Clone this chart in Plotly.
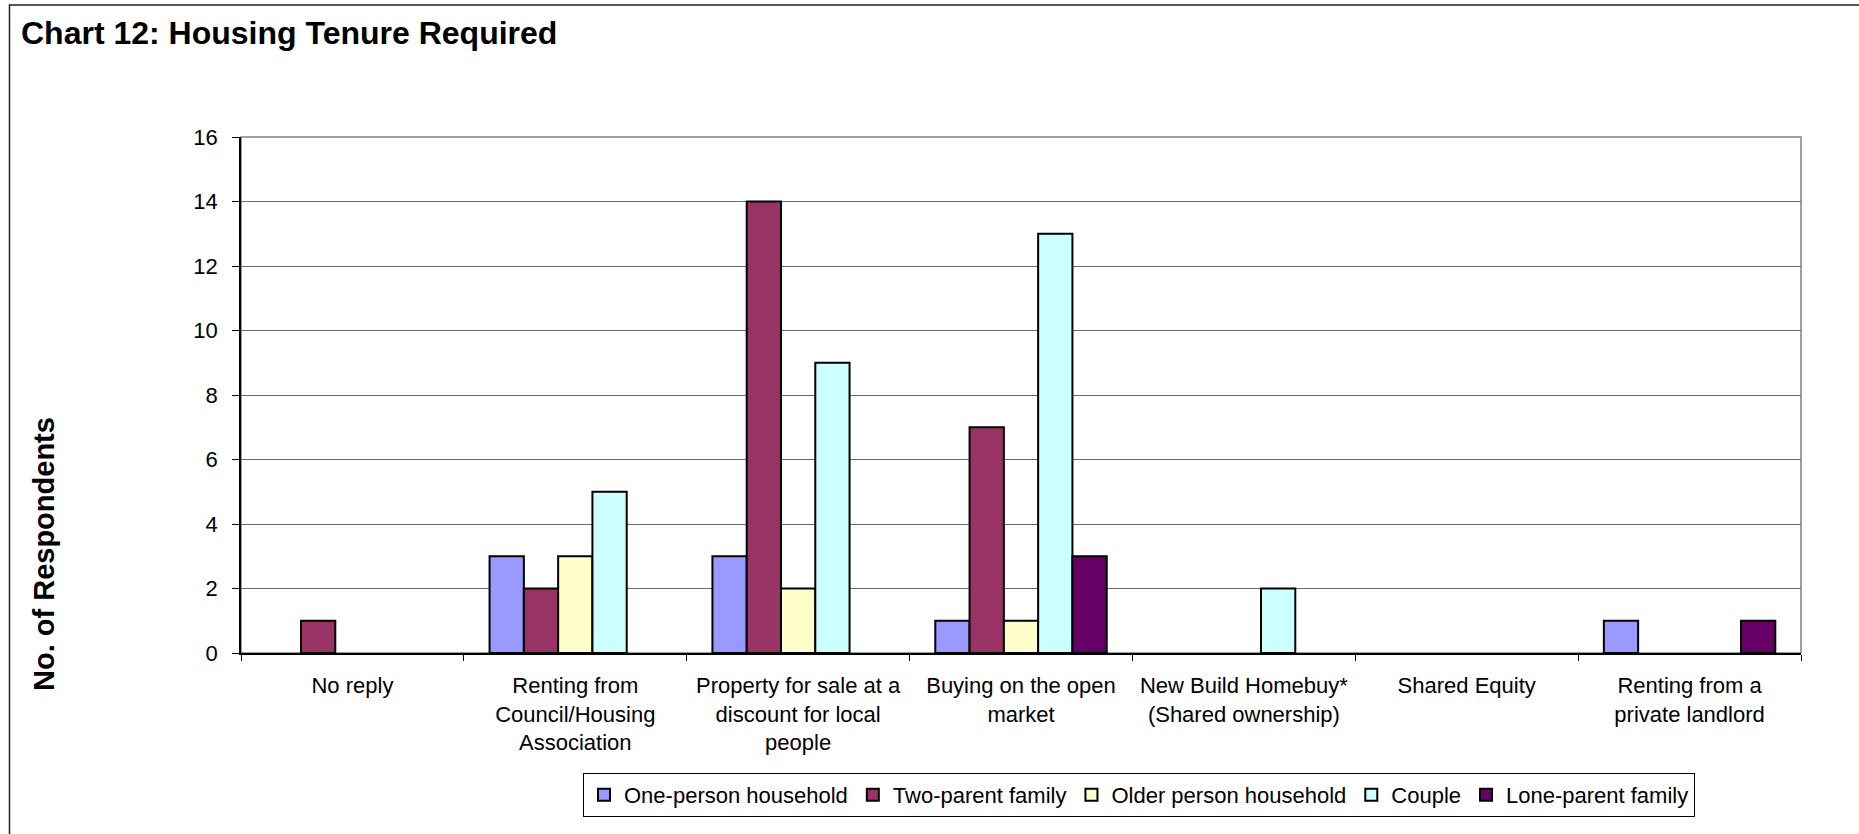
import plotly.graph_objects as go

# Housing tenure categories (x axis)
categories = [
    "No reply",
    "Renting from<br>Council/Housing<br>Association",
    "Property for sale at a<br>discount for local<br>people",
    "Buying on the open<br>market",
    "New Build Homebuy*<br>(Shared ownership)",
    "Shared Equity",
    "Renting from a<br>private landlord",
]

# Respondents per household type (None = no bar)
one_person = [None, 3, 3, 1, None, None, 1]
two_parent = [1, 2, 14, 7, None, None, None]
older_person = [None, 3, 2, 1, None, None, None]
couple = [None, 5, 9, 13, 2, None, None]
lone_parent = [None, None, None, 3, None, None, 1]

series_names = ["One-person household", "Two-parent family", "Older person household",
                "Couple", "Lone-parent family"]
series_values = [one_person, two_parent, older_person, couple, lone_parent]
series_colors = ["#9999FF", "#993366", "#FFFFCC", "#CCFFFF", "#660066"]

y_ticks = [0, 2, 4, 6, 8, 10, 12, 14, 16]

W, H = 1859, 834
L, R, T, B = 241, 1801, 137, 653  # plot area in pixels

def px_x(px):
    return (px - L) / (R - L)

def px_y(py):
    return (B - py) / (B - T)

FONT = "Arial, Liberation Sans, Helvetica, sans-serif"

fig = go.Figure()
for name, vals, col in zip(series_names, series_values, series_colors):
    fig.add_trace(go.Bar(
        name=name, x=categories, y=vals,
        marker=dict(color=col, line=dict(color="black", width=2)),
    ))

# outer chart frame: left and top edges only
frame_path = "M {:.5f},{:.5f} L {:.5f},{:.5f} L {:.5f},{:.5f}".format(
    px_x(9.5), px_y(H), px_x(9.5), px_y(5), px_x(W), px_y(5))

fig.update_layout(
    width=W, height=H,
    margin=dict(l=L, r=W - R, t=T, b=H - B, autoexpand=False),
    paper_bgcolor="white", plot_bgcolor="white",
    barmode="group", bargap=1.5 / 6.5, bargroupgap=0,
    font=dict(family=FONT, size=22, color="black"),
    showlegend=True,
    legend=dict(
        orientation="h", x=px_x(1139), xanchor="center", y=px_y(773), yanchor="top",
        bordercolor="black", borderwidth=1, font=dict(size=22),
        itemwidth=30, tracegroupgap=0, traceorder="normal",
        itemclick=False, itemdoubleclick=False,
    ),
    xaxis=dict(
        type="category", showline=True, linecolor="black", linewidth=1.5,
        ticks="outside", tickson="boundaries", ticklen=6, tickcolor="black",
        tickwidth=1, tickfont=dict(size=22), showgrid=False,
        ticklabelstandoff=12, automargin=False,
    ),
    yaxis=dict(
        range=[0, 16], tickvals=y_ticks, showline=True, linecolor="black",
        linewidth=1.5, ticks="outside", ticklen=7, tickcolor="black",
        tickwidth=1, tickfont=dict(size=22), showgrid=True, gridcolor="#6a6a6a",
        gridwidth=1, zeroline=False, ticklabelstandoff=10, automargin=False,
    ),
    title=dict(
        text="<b>Chart 12: Housing Tenure Required</b>",
        x=21 / W, xanchor="left", xref="container",
        y=1 - 33 / H, yanchor="middle", yref="container",
        font=dict(family=FONT, size=32, color="black"),
    ),
    annotations=[dict(
        text="<b>No. of Respondents</b>", textangle=-90,
        xref="paper", yref="paper", x=px_x(44), y=px_y(554),
        xanchor="center", yanchor="middle", showarrow=False,
        font=dict(family=FONT, size=29, color="black"),
    )],
    shapes=[
        # plot area border
        dict(type="rect", xref="paper", yref="paper", x0=0, x1=1, y0=0, y1=1,
             line=dict(color="#808080", width=1.5), layer="below"),
        dict(type="path", xref="paper", yref="paper", path=frame_path,
             line=dict(color="#222222", width=1.5)),
    ],
)

# keep the page exactly the size of the figure (no scrollbars)
page_css = ("document.documentElement.style.overflow='hidden';"
            "document.body.style.overflow='hidden';"
            "document.body.style.margin='0';")

fig.write_html("out.html", post_script=page_css)
